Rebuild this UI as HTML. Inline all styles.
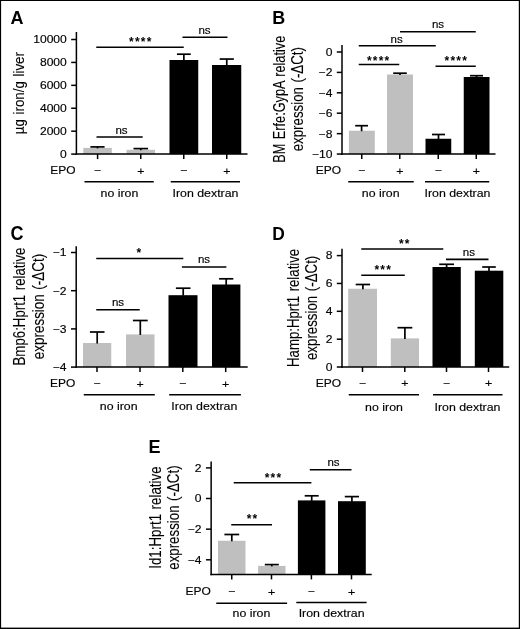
<!DOCTYPE html>
<html><head><meta charset="utf-8"><title>Figure</title>
<style>
html,body{margin:0;padding:0;background:#fff;}
svg{display:block;font-family:"Liberation Sans",sans-serif;}
</style></head><body>
<svg width="520" height="629" viewBox="0 0 520 629">
<rect x="0" y="0" width="520" height="629" fill="#fff"/>
<rect x="83.30" y="147.90" width="28.50" height="6.20" fill="#bfbfbf"/>
<rect x="126.60" y="149.80" width="28.40" height="4.30" fill="#bfbfbf"/>
<rect x="169.50" y="60.00" width="28.75" height="94.10" fill="#000"/>
<rect x="212.00" y="65.00" width="29.25" height="89.10" fill="#000"/>
<line x1="97.50" y1="146.90" x2="97.50" y2="148.40" stroke="#000" stroke-width="1.7"/>
<line x1="90.40" y1="146.90" x2="104.60" y2="146.90" stroke="#000" stroke-width="1.7"/>
<line x1="140.80" y1="148.60" x2="140.80" y2="150.30" stroke="#000" stroke-width="1.7"/>
<line x1="133.50" y1="148.60" x2="148.10" y2="148.60" stroke="#000" stroke-width="1.7"/>
<line x1="183.85" y1="54.20" x2="183.85" y2="60.50" stroke="#000" stroke-width="1.7"/>
<line x1="176.95" y1="54.20" x2="190.75" y2="54.20" stroke="#000" stroke-width="1.7"/>
<line x1="226.75" y1="59.05" x2="226.75" y2="65.50" stroke="#000" stroke-width="1.7"/>
<line x1="219.65" y1="59.05" x2="233.85" y2="59.05" stroke="#000" stroke-width="1.7"/>
<line x1="76.40" y1="32.00" x2="76.40" y2="154.85" stroke="#000" stroke-width="1.5"/>
<line x1="75.65" y1="154.10" x2="247.50" y2="154.10" stroke="#000" stroke-width="1.5"/>
<line x1="71.20" y1="39.50" x2="76.40" y2="39.50" stroke="#000" stroke-width="1.5"/>
<text transform="translate(66.80,43.35) scale(1.1,1)" text-anchor="end" font-size="11" font-weight="normal" stroke="#000" stroke-width="0.15" >10000</text>
<line x1="71.20" y1="62.42" x2="76.40" y2="62.42" stroke="#000" stroke-width="1.5"/>
<text transform="translate(66.80,66.27) scale(1.1,1)" text-anchor="end" font-size="11" font-weight="normal" stroke="#000" stroke-width="0.15" >8000</text>
<line x1="71.20" y1="85.34" x2="76.40" y2="85.34" stroke="#000" stroke-width="1.5"/>
<text transform="translate(66.80,89.19) scale(1.1,1)" text-anchor="end" font-size="11" font-weight="normal" stroke="#000" stroke-width="0.15" >6000</text>
<line x1="71.20" y1="108.26" x2="76.40" y2="108.26" stroke="#000" stroke-width="1.5"/>
<text transform="translate(66.80,112.11) scale(1.1,1)" text-anchor="end" font-size="11" font-weight="normal" stroke="#000" stroke-width="0.15" >4000</text>
<line x1="71.20" y1="131.18" x2="76.40" y2="131.18" stroke="#000" stroke-width="1.5"/>
<text transform="translate(66.80,135.03) scale(1.1,1)" text-anchor="end" font-size="11" font-weight="normal" stroke="#000" stroke-width="0.15" >2000</text>
<line x1="71.20" y1="154.10" x2="76.40" y2="154.10" stroke="#000" stroke-width="1.5"/>
<text transform="translate(66.80,157.95) scale(1.1,1)" text-anchor="end" font-size="11" font-weight="normal" stroke="#000" stroke-width="0.15" >0</text>
<line x1="97.60" y1="154.10" x2="97.60" y2="159.10" stroke="#000" stroke-width="1.5"/>
<line x1="140.75" y1="154.10" x2="140.75" y2="159.10" stroke="#000" stroke-width="1.5"/>
<line x1="183.75" y1="154.10" x2="183.75" y2="159.10" stroke="#000" stroke-width="1.5"/>
<line x1="226.75" y1="154.10" x2="226.75" y2="159.10" stroke="#000" stroke-width="1.5"/>
<text transform="translate(75.50,173.70) scale(1.09,1)" text-anchor="end" font-size="11" font-weight="normal" stroke="#000" stroke-width="0.15" >EPO</text>
<text transform="translate(97.60,173.70) scale(1.125,1)" text-anchor="middle" font-size="11" font-weight="normal" stroke="#000" stroke-width="0.15" >−</text>
<text transform="translate(140.75,174.50) scale(1.125,1)" text-anchor="middle" font-size="11" font-weight="normal" stroke="#000" stroke-width="0.15" >+</text>
<text transform="translate(183.75,173.70) scale(1.125,1)" text-anchor="middle" font-size="11" font-weight="normal" stroke="#000" stroke-width="0.15" >−</text>
<text transform="translate(226.75,174.50) scale(1.125,1)" text-anchor="middle" font-size="11" font-weight="normal" stroke="#000" stroke-width="0.15" >+</text>
<line x1="84.50" y1="181.80" x2="153.75" y2="181.80" stroke="#000" stroke-width="1.5"/>
<line x1="170.75" y1="181.80" x2="240.00" y2="181.80" stroke="#000" stroke-width="1.5"/>
<text transform="translate(119.40,196.50) scale(1.125,1)" text-anchor="middle" font-size="11" font-weight="normal" stroke="#000" stroke-width="0.15" >no iron</text>
<text transform="translate(205.50,196.50) scale(1.125,1)" text-anchor="middle" font-size="11" font-weight="normal" stroke="#000" stroke-width="0.15" >Iron dextran</text>
<line x1="96.25" y1="47.20" x2="183.75" y2="47.20" stroke="#000" stroke-width="1.6"/>
<line x1="182.50" y1="37.30" x2="227.50" y2="37.30" stroke="#000" stroke-width="1.6"/>
<line x1="96.50" y1="137.00" x2="142.70" y2="137.00" stroke="#000" stroke-width="1.6"/>
<text transform="translate(140.80,45.70)" text-anchor="middle" font-size="12" font-weight="bold" letter-spacing="1.2">****</text>
<text transform="translate(204.50,33.60) scale(1.05,1)" text-anchor="middle" font-size="11" font-weight="normal" stroke="#000" stroke-width="0.15" >ns</text>
<text transform="translate(121.50,133.60) scale(1.05,1)" text-anchor="middle" font-size="11" font-weight="normal" stroke="#000" stroke-width="0.15" >ns</text>
<text transform="translate(10.50,24.20) scale(1.0,1)" text-anchor="start" font-size="18" font-weight="bold" stroke="#000" stroke-width="0" >A</text>
<text transform="translate(24.10,134.20) rotate(-90) scale(0.862,1)" text-anchor="start" font-size="15.5" word-spacing="1" stroke="#000" stroke-width="0.1">µg iron/g liver</text>
<rect x="348.90" y="130.70" width="25.90" height="23.35" fill="#bfbfbf"/>
<rect x="387.00" y="74.50" width="26.00" height="79.55" fill="#bfbfbf"/>
<rect x="425.50" y="138.75" width="25.75" height="15.30" fill="#000"/>
<rect x="463.75" y="77.00" width="25.75" height="77.05" fill="#000"/>
<line x1="361.60" y1="125.70" x2="361.60" y2="131.25" stroke="#000" stroke-width="1.7"/>
<line x1="355.20" y1="125.70" x2="368.00" y2="125.70" stroke="#000" stroke-width="1.7"/>
<line x1="400.00" y1="73.20" x2="400.00" y2="75.00" stroke="#000" stroke-width="1.7"/>
<line x1="393.20" y1="73.20" x2="406.80" y2="73.20" stroke="#000" stroke-width="1.7"/>
<line x1="438.50" y1="134.50" x2="438.50" y2="139.25" stroke="#000" stroke-width="1.7"/>
<line x1="432.00" y1="134.50" x2="445.00" y2="134.50" stroke="#000" stroke-width="1.7"/>
<line x1="476.50" y1="75.70" x2="476.50" y2="77.50" stroke="#000" stroke-width="1.7"/>
<line x1="470.00" y1="75.70" x2="483.00" y2="75.70" stroke="#000" stroke-width="1.7"/>
<line x1="342.00" y1="45.00" x2="342.00" y2="154.80" stroke="#000" stroke-width="1.5"/>
<line x1="341.25" y1="154.05" x2="495.50" y2="154.05" stroke="#000" stroke-width="1.5"/>
<line x1="336.80" y1="52.00" x2="342.00" y2="52.00" stroke="#000" stroke-width="1.5"/>
<text transform="translate(332.40,55.85) scale(1.1,1)" text-anchor="end" font-size="11" font-weight="normal" stroke="#000" stroke-width="0.15" >0</text>
<line x1="336.80" y1="72.40" x2="342.00" y2="72.40" stroke="#000" stroke-width="1.5"/>
<text transform="translate(332.40,76.25) scale(1.1,1)" text-anchor="end" font-size="11" font-weight="normal" stroke="#000" stroke-width="0.15" >−2</text>
<line x1="336.80" y1="92.80" x2="342.00" y2="92.80" stroke="#000" stroke-width="1.5"/>
<text transform="translate(332.40,96.65) scale(1.1,1)" text-anchor="end" font-size="11" font-weight="normal" stroke="#000" stroke-width="0.15" >−4</text>
<line x1="336.80" y1="113.20" x2="342.00" y2="113.20" stroke="#000" stroke-width="1.5"/>
<text transform="translate(332.40,117.05) scale(1.1,1)" text-anchor="end" font-size="11" font-weight="normal" stroke="#000" stroke-width="0.15" >−6</text>
<line x1="336.80" y1="133.65" x2="342.00" y2="133.65" stroke="#000" stroke-width="1.5"/>
<text transform="translate(332.40,137.50) scale(1.1,1)" text-anchor="end" font-size="11" font-weight="normal" stroke="#000" stroke-width="0.15" >−8</text>
<line x1="336.80" y1="154.05" x2="342.00" y2="154.05" stroke="#000" stroke-width="1.5"/>
<text transform="translate(332.40,157.90) scale(1.1,1)" text-anchor="end" font-size="11" font-weight="normal" stroke="#000" stroke-width="0.15" >−10</text>
<line x1="361.75" y1="154.05" x2="361.75" y2="159.05" stroke="#000" stroke-width="1.5"/>
<line x1="399.75" y1="154.05" x2="399.75" y2="159.05" stroke="#000" stroke-width="1.5"/>
<line x1="438.25" y1="154.05" x2="438.25" y2="159.05" stroke="#000" stroke-width="1.5"/>
<line x1="476.25" y1="154.05" x2="476.25" y2="159.05" stroke="#000" stroke-width="1.5"/>
<text transform="translate(341.10,173.70) scale(1.09,1)" text-anchor="end" font-size="11" font-weight="normal" stroke="#000" stroke-width="0.15" >EPO</text>
<text transform="translate(361.75,173.70) scale(1.125,1)" text-anchor="middle" font-size="11" font-weight="normal" stroke="#000" stroke-width="0.15" >−</text>
<text transform="translate(399.75,174.50) scale(1.125,1)" text-anchor="middle" font-size="11" font-weight="normal" stroke="#000" stroke-width="0.15" >+</text>
<text transform="translate(438.25,173.70) scale(1.125,1)" text-anchor="middle" font-size="11" font-weight="normal" stroke="#000" stroke-width="0.15" >−</text>
<text transform="translate(476.25,174.50) scale(1.125,1)" text-anchor="middle" font-size="11" font-weight="normal" stroke="#000" stroke-width="0.15" >+</text>
<line x1="348.25" y1="181.80" x2="413.75" y2="181.80" stroke="#000" stroke-width="1.5"/>
<line x1="425.00" y1="181.80" x2="489.25" y2="181.80" stroke="#000" stroke-width="1.5"/>
<text transform="translate(380.70,196.50) scale(1.125,1)" text-anchor="middle" font-size="11" font-weight="normal" stroke="#000" stroke-width="0.15" >no iron</text>
<text transform="translate(457.50,196.50) scale(1.125,1)" text-anchor="middle" font-size="11" font-weight="normal" stroke="#000" stroke-width="0.15" >Iron dextran</text>
<line x1="400.00" y1="31.75" x2="475.75" y2="31.75" stroke="#000" stroke-width="1.6"/>
<line x1="358.75" y1="45.75" x2="435.75" y2="45.75" stroke="#000" stroke-width="1.6"/>
<line x1="358.75" y1="64.50" x2="399.25" y2="64.50" stroke="#000" stroke-width="1.6"/>
<line x1="435.50" y1="66.25" x2="475.75" y2="66.25" stroke="#000" stroke-width="1.6"/>
<text transform="translate(438.00,28.10) scale(1.05,1)" text-anchor="middle" font-size="11" font-weight="normal" stroke="#000" stroke-width="0.15" >ns</text>
<text transform="translate(396.70,42.90) scale(1.05,1)" text-anchor="middle" font-size="11" font-weight="normal" stroke="#000" stroke-width="0.15" >ns</text>
<text transform="translate(378.70,64.50)" text-anchor="middle" font-size="12" font-weight="bold" letter-spacing="1.2">****</text>
<text transform="translate(456.30,64.70)" text-anchor="middle" font-size="12" font-weight="bold" letter-spacing="1.2">****</text>
<text transform="translate(272.20,24.20) scale(0.97,1)" text-anchor="start" font-size="18.5" font-weight="bold" stroke="#000" stroke-width="0" >B</text>
<text transform="translate(285.10,99.20) rotate(-90) scale(0.797,1)" text-anchor="middle" font-size="16" word-spacing="1" stroke="#000" stroke-width="0.1">BM Erfe:GypA relative</text>
<text transform="translate(302.90,99.20) rotate(-90) scale(0.832,1)" text-anchor="middle" font-size="16" word-spacing="1" stroke="#000" stroke-width="0.1">expression (-ΔCt)</text>
<rect x="83.00" y="343.00" width="28.25" height="24.10" fill="#bfbfbf"/>
<rect x="126.00" y="334.40" width="28.50" height="32.70" fill="#bfbfbf"/>
<rect x="168.50" y="295.20" width="29.00" height="71.90" fill="#000"/>
<rect x="212.00" y="284.50" width="28.40" height="82.60" fill="#000"/>
<line x1="97.20" y1="332.00" x2="97.20" y2="343.50" stroke="#000" stroke-width="1.7"/>
<line x1="89.90" y1="332.00" x2="104.50" y2="332.00" stroke="#000" stroke-width="1.7"/>
<line x1="140.30" y1="320.50" x2="140.30" y2="334.90" stroke="#000" stroke-width="1.7"/>
<line x1="132.90" y1="320.50" x2="147.70" y2="320.50" stroke="#000" stroke-width="1.7"/>
<line x1="183.20" y1="288.20" x2="183.20" y2="295.70" stroke="#000" stroke-width="1.7"/>
<line x1="175.90" y1="288.20" x2="190.50" y2="288.20" stroke="#000" stroke-width="1.7"/>
<line x1="226.20" y1="278.80" x2="226.20" y2="285.00" stroke="#000" stroke-width="1.7"/>
<line x1="219.10" y1="278.80" x2="233.30" y2="278.80" stroke="#000" stroke-width="1.7"/>
<line x1="76.20" y1="246.25" x2="76.20" y2="367.85" stroke="#000" stroke-width="1.5"/>
<line x1="75.45" y1="367.10" x2="247.70" y2="367.10" stroke="#000" stroke-width="1.5"/>
<line x1="71.00" y1="252.50" x2="76.20" y2="252.50" stroke="#000" stroke-width="1.5"/>
<text transform="translate(66.60,256.35) scale(1.1,1)" text-anchor="end" font-size="11" font-weight="normal" stroke="#000" stroke-width="0.15" >−1</text>
<line x1="71.00" y1="290.70" x2="76.20" y2="290.70" stroke="#000" stroke-width="1.5"/>
<text transform="translate(66.60,294.55) scale(1.1,1)" text-anchor="end" font-size="11" font-weight="normal" stroke="#000" stroke-width="0.15" >−2</text>
<line x1="71.00" y1="328.90" x2="76.20" y2="328.90" stroke="#000" stroke-width="1.5"/>
<text transform="translate(66.60,332.75) scale(1.1,1)" text-anchor="end" font-size="11" font-weight="normal" stroke="#000" stroke-width="0.15" >−3</text>
<line x1="71.00" y1="367.10" x2="76.20" y2="367.10" stroke="#000" stroke-width="1.5"/>
<text transform="translate(66.60,370.95) scale(1.1,1)" text-anchor="end" font-size="11" font-weight="normal" stroke="#000" stroke-width="0.15" >−4</text>
<line x1="97.00" y1="367.10" x2="97.00" y2="372.10" stroke="#000" stroke-width="1.5"/>
<line x1="140.00" y1="367.10" x2="140.00" y2="372.10" stroke="#000" stroke-width="1.5"/>
<line x1="182.80" y1="367.10" x2="182.80" y2="372.10" stroke="#000" stroke-width="1.5"/>
<line x1="225.70" y1="367.10" x2="225.70" y2="372.10" stroke="#000" stroke-width="1.5"/>
<text transform="translate(75.30,386.70) scale(1.09,1)" text-anchor="end" font-size="11" font-weight="normal" stroke="#000" stroke-width="0.15" >EPO</text>
<text transform="translate(97.00,386.70) scale(1.125,1)" text-anchor="middle" font-size="11" font-weight="normal" stroke="#000" stroke-width="0.15" >−</text>
<text transform="translate(140.00,387.50) scale(1.125,1)" text-anchor="middle" font-size="11" font-weight="normal" stroke="#000" stroke-width="0.15" >+</text>
<text transform="translate(182.80,386.70) scale(1.125,1)" text-anchor="middle" font-size="11" font-weight="normal" stroke="#000" stroke-width="0.15" >−</text>
<text transform="translate(225.70,387.50) scale(1.125,1)" text-anchor="middle" font-size="11" font-weight="normal" stroke="#000" stroke-width="0.15" >+</text>
<line x1="83.75" y1="394.80" x2="154.80" y2="394.80" stroke="#000" stroke-width="1.5"/>
<line x1="169.20" y1="394.80" x2="240.90" y2="394.80" stroke="#000" stroke-width="1.5"/>
<text transform="translate(118.70,410.40) scale(1.125,1)" text-anchor="middle" font-size="11" font-weight="normal" stroke="#000" stroke-width="0.15" >no iron</text>
<text transform="translate(204.30,410.40) scale(1.125,1)" text-anchor="middle" font-size="11" font-weight="normal" stroke="#000" stroke-width="0.15" >Iron dextran</text>
<line x1="96.25" y1="258.50" x2="183.30" y2="258.50" stroke="#000" stroke-width="1.6"/>
<line x1="181.90" y1="267.00" x2="226.40" y2="267.00" stroke="#000" stroke-width="1.6"/>
<line x1="96.25" y1="309.70" x2="139.70" y2="309.70" stroke="#000" stroke-width="1.6"/>
<text transform="translate(139.45,257.00)" text-anchor="middle" font-size="12" font-weight="bold" letter-spacing="1.2">*</text>
<text transform="translate(204.00,262.70) scale(1.05,1)" text-anchor="middle" font-size="11" font-weight="normal" stroke="#000" stroke-width="0.15" >ns</text>
<text transform="translate(118.00,305.60) scale(1.05,1)" text-anchor="middle" font-size="11" font-weight="normal" stroke="#000" stroke-width="0.15" >ns</text>
<text transform="translate(10.40,239.50) scale(0.93,1)" text-anchor="start" font-size="19.4" font-weight="bold" stroke="#000" stroke-width="0" >C</text>
<text transform="translate(25.35,306.50) rotate(-90) scale(0.829,1)" text-anchor="middle" font-size="16" word-spacing="1" stroke="#000" stroke-width="0.1">Bmp6:Hprt1 relative</text>
<text transform="translate(43.50,306.50) rotate(-90) scale(0.84,1)" text-anchor="middle" font-size="16" word-spacing="1" stroke="#000" stroke-width="0.1">expression (-ΔCt)</text>
<rect x="348.20" y="288.75" width="28.80" height="78.25" fill="#bfbfbf"/>
<rect x="390.80" y="338.40" width="28.20" height="28.60" fill="#bfbfbf"/>
<rect x="432.50" y="267.00" width="28.30" height="100.00" fill="#000"/>
<rect x="474.80" y="270.70" width="28.50" height="96.30" fill="#000"/>
<line x1="362.90" y1="284.50" x2="362.90" y2="289.25" stroke="#000" stroke-width="1.7"/>
<line x1="355.70" y1="284.50" x2="370.10" y2="284.50" stroke="#000" stroke-width="1.7"/>
<line x1="404.90" y1="327.70" x2="404.90" y2="338.90" stroke="#000" stroke-width="1.7"/>
<line x1="397.50" y1="327.70" x2="412.30" y2="327.70" stroke="#000" stroke-width="1.7"/>
<line x1="446.60" y1="264.30" x2="446.60" y2="267.50" stroke="#000" stroke-width="1.7"/>
<line x1="439.20" y1="264.30" x2="454.00" y2="264.30" stroke="#000" stroke-width="1.7"/>
<line x1="489.00" y1="267.00" x2="489.00" y2="271.20" stroke="#000" stroke-width="1.7"/>
<line x1="482.20" y1="267.00" x2="495.80" y2="267.00" stroke="#000" stroke-width="1.7"/>
<line x1="342.00" y1="248.70" x2="342.00" y2="367.75" stroke="#000" stroke-width="1.5"/>
<line x1="341.25" y1="367.00" x2="509.20" y2="367.00" stroke="#000" stroke-width="1.5"/>
<line x1="336.80" y1="255.60" x2="342.00" y2="255.60" stroke="#000" stroke-width="1.5"/>
<text transform="translate(332.40,259.45) scale(1.1,1)" text-anchor="end" font-size="11" font-weight="normal" stroke="#000" stroke-width="0.15" >8</text>
<line x1="336.80" y1="283.45" x2="342.00" y2="283.45" stroke="#000" stroke-width="1.5"/>
<text transform="translate(332.40,287.30) scale(1.1,1)" text-anchor="end" font-size="11" font-weight="normal" stroke="#000" stroke-width="0.15" >6</text>
<line x1="336.80" y1="311.30" x2="342.00" y2="311.30" stroke="#000" stroke-width="1.5"/>
<text transform="translate(332.40,315.15) scale(1.1,1)" text-anchor="end" font-size="11" font-weight="normal" stroke="#000" stroke-width="0.15" >4</text>
<line x1="336.80" y1="339.20" x2="342.00" y2="339.20" stroke="#000" stroke-width="1.5"/>
<text transform="translate(332.40,343.05) scale(1.1,1)" text-anchor="end" font-size="11" font-weight="normal" stroke="#000" stroke-width="0.15" >2</text>
<line x1="336.80" y1="367.00" x2="342.00" y2="367.00" stroke="#000" stroke-width="1.5"/>
<text transform="translate(332.40,370.85) scale(1.1,1)" text-anchor="end" font-size="11" font-weight="normal" stroke="#000" stroke-width="0.15" >0</text>
<line x1="362.50" y1="367.00" x2="362.50" y2="372.00" stroke="#000" stroke-width="1.5"/>
<line x1="404.80" y1="367.00" x2="404.80" y2="372.00" stroke="#000" stroke-width="1.5"/>
<line x1="446.50" y1="367.00" x2="446.50" y2="372.00" stroke="#000" stroke-width="1.5"/>
<line x1="488.50" y1="367.00" x2="488.50" y2="372.00" stroke="#000" stroke-width="1.5"/>
<text transform="translate(341.10,386.70) scale(1.09,1)" text-anchor="end" font-size="11" font-weight="normal" stroke="#000" stroke-width="0.15" >EPO</text>
<text transform="translate(362.50,386.50) scale(1.125,1)" text-anchor="middle" font-size="11" font-weight="normal" stroke="#000" stroke-width="0.15" >−</text>
<text transform="translate(404.80,387.30) scale(1.125,1)" text-anchor="middle" font-size="11" font-weight="normal" stroke="#000" stroke-width="0.15" >+</text>
<text transform="translate(446.50,386.50) scale(1.125,1)" text-anchor="middle" font-size="11" font-weight="normal" stroke="#000" stroke-width="0.15" >−</text>
<text transform="translate(488.50,387.30) scale(1.125,1)" text-anchor="middle" font-size="11" font-weight="normal" stroke="#000" stroke-width="0.15" >+</text>
<line x1="348.75" y1="394.80" x2="419.00" y2="394.80" stroke="#000" stroke-width="1.5"/>
<line x1="433.00" y1="394.80" x2="502.50" y2="394.80" stroke="#000" stroke-width="1.5"/>
<text transform="translate(384.00,410.60) scale(1.125,1)" text-anchor="middle" font-size="11" font-weight="normal" stroke="#000" stroke-width="0.15" >no iron</text>
<text transform="translate(467.50,410.60) scale(1.125,1)" text-anchor="middle" font-size="11" font-weight="normal" stroke="#000" stroke-width="0.15" >Iron dextran</text>
<line x1="361.25" y1="249.00" x2="443.30" y2="249.00" stroke="#000" stroke-width="1.6"/>
<line x1="361.25" y1="275.30" x2="404.80" y2="275.30" stroke="#000" stroke-width="1.6"/>
<line x1="446.00" y1="259.40" x2="488.50" y2="259.40" stroke="#000" stroke-width="1.6"/>
<text transform="translate(404.85,248.00)" text-anchor="middle" font-size="12" font-weight="bold" letter-spacing="1.2">**</text>
<text transform="translate(383.20,274.20)" text-anchor="middle" font-size="12" font-weight="bold" letter-spacing="1.2">***</text>
<text transform="translate(468.90,256.00) scale(1.05,1)" text-anchor="middle" font-size="11" font-weight="normal" stroke="#000" stroke-width="0.15" >ns</text>
<text transform="translate(272.20,239.50) scale(0.95,1)" text-anchor="start" font-size="18.3" font-weight="bold" stroke="#000" stroke-width="0" >D</text>
<text transform="translate(299.10,307.90) rotate(-90) scale(0.825,1)" text-anchor="middle" font-size="16" word-spacing="1" stroke="#000" stroke-width="0.1">Hamp:Hprt1 relative</text>
<text transform="translate(316.90,307.90) rotate(-90) scale(0.832,1)" text-anchor="middle" font-size="16" word-spacing="1" stroke="#000" stroke-width="0.1">expression (-ΔCt)</text>
<rect x="218.00" y="540.75" width="27.50" height="33.65" fill="#bfbfbf"/>
<rect x="258.10" y="565.90" width="27.40" height="8.50" fill="#bfbfbf"/>
<rect x="297.90" y="500.40" width="27.50" height="74.00" fill="#000"/>
<rect x="338.00" y="501.20" width="27.80" height="73.20" fill="#000"/>
<line x1="231.80" y1="534.50" x2="231.80" y2="541.25" stroke="#000" stroke-width="1.7"/>
<line x1="224.40" y1="534.50" x2="239.20" y2="534.50" stroke="#000" stroke-width="1.7"/>
<line x1="271.80" y1="564.60" x2="271.80" y2="566.40" stroke="#000" stroke-width="1.7"/>
<line x1="264.80" y1="564.60" x2="278.80" y2="564.60" stroke="#000" stroke-width="1.7"/>
<line x1="311.70" y1="495.80" x2="311.70" y2="500.90" stroke="#000" stroke-width="1.7"/>
<line x1="304.70" y1="495.80" x2="318.70" y2="495.80" stroke="#000" stroke-width="1.7"/>
<line x1="351.90" y1="496.60" x2="351.90" y2="501.70" stroke="#000" stroke-width="1.7"/>
<line x1="344.80" y1="496.60" x2="359.00" y2="496.60" stroke="#000" stroke-width="1.7"/>
<line x1="211.15" y1="461.50" x2="211.15" y2="575.15" stroke="#000" stroke-width="1.5"/>
<line x1="210.40" y1="574.40" x2="371.70" y2="574.40" stroke="#000" stroke-width="1.5"/>
<line x1="205.95" y1="467.90" x2="211.15" y2="467.90" stroke="#000" stroke-width="1.5"/>
<text transform="translate(201.55,471.75) scale(1.1,1)" text-anchor="end" font-size="11" font-weight="normal" stroke="#000" stroke-width="0.15" >2</text>
<line x1="205.95" y1="498.50" x2="211.15" y2="498.50" stroke="#000" stroke-width="1.5"/>
<text transform="translate(201.55,502.35) scale(1.1,1)" text-anchor="end" font-size="11" font-weight="normal" stroke="#000" stroke-width="0.15" >0</text>
<line x1="205.95" y1="529.15" x2="211.15" y2="529.15" stroke="#000" stroke-width="1.5"/>
<text transform="translate(201.55,533.00) scale(1.1,1)" text-anchor="end" font-size="11" font-weight="normal" stroke="#000" stroke-width="0.15" >−2</text>
<line x1="205.95" y1="559.80" x2="211.15" y2="559.80" stroke="#000" stroke-width="1.5"/>
<text transform="translate(201.55,563.65) scale(1.1,1)" text-anchor="end" font-size="11" font-weight="normal" stroke="#000" stroke-width="0.15" >−4</text>
<line x1="231.75" y1="574.40" x2="231.75" y2="579.40" stroke="#000" stroke-width="1.5"/>
<line x1="271.50" y1="574.40" x2="271.50" y2="579.40" stroke="#000" stroke-width="1.5"/>
<line x1="311.40" y1="574.40" x2="311.40" y2="579.40" stroke="#000" stroke-width="1.5"/>
<line x1="351.50" y1="574.40" x2="351.50" y2="579.40" stroke="#000" stroke-width="1.5"/>
<text transform="translate(210.75,594.70) scale(1.09,1)" text-anchor="end" font-size="11" font-weight="normal" stroke="#000" stroke-width="0.15" >EPO</text>
<text transform="translate(231.75,595.00) scale(1.125,1)" text-anchor="middle" font-size="11" font-weight="normal" stroke="#000" stroke-width="0.15" >−</text>
<text transform="translate(271.50,595.80) scale(1.125,1)" text-anchor="middle" font-size="11" font-weight="normal" stroke="#000" stroke-width="0.15" >+</text>
<text transform="translate(311.40,595.00) scale(1.125,1)" text-anchor="middle" font-size="11" font-weight="normal" stroke="#000" stroke-width="0.15" >−</text>
<text transform="translate(351.50,595.80) scale(1.125,1)" text-anchor="middle" font-size="11" font-weight="normal" stroke="#000" stroke-width="0.15" >+</text>
<line x1="216.25" y1="603.30" x2="287.10" y2="603.30" stroke="#000" stroke-width="1.5"/>
<line x1="296.30" y1="602.50" x2="366.60" y2="602.50" stroke="#000" stroke-width="1.5"/>
<text transform="translate(251.40,617.20) scale(1.125,1)" text-anchor="middle" font-size="11" font-weight="normal" stroke="#000" stroke-width="0.15" >no iron</text>
<text transform="translate(331.60,617.20) scale(1.125,1)" text-anchor="middle" font-size="11" font-weight="normal" stroke="#000" stroke-width="0.15" >Iron dextran</text>
<line x1="233.75" y1="482.80" x2="311.40" y2="482.80" stroke="#000" stroke-width="1.6"/>
<line x1="309.80" y1="469.70" x2="351.50" y2="469.70" stroke="#000" stroke-width="1.6"/>
<line x1="231.25" y1="524.70" x2="272.00" y2="524.70" stroke="#000" stroke-width="1.6"/>
<text transform="translate(273.50,481.60)" text-anchor="middle" font-size="12" font-weight="bold" letter-spacing="1.2">***</text>
<text transform="translate(333.50,466.00) scale(1.05,1)" text-anchor="middle" font-size="11" font-weight="normal" stroke="#000" stroke-width="0.15" >ns</text>
<text transform="translate(252.60,523.40)" text-anchor="middle" font-size="12" font-weight="bold" letter-spacing="1.2">**</text>
<text transform="translate(148.60,452.90) scale(0.94,1)" text-anchor="start" font-size="19.2" font-weight="bold" stroke="#000" stroke-width="0" >E</text>
<text transform="translate(161.10,517.60) rotate(-90) scale(0.835,1)" text-anchor="middle" font-size="16" word-spacing="1" stroke="#000" stroke-width="0.1">Id1:Hprt1 relative</text>
<text transform="translate(179.30,517.60) rotate(-90) scale(0.832,1)" text-anchor="middle" font-size="16" word-spacing="1" stroke="#000" stroke-width="0.1">expression (-ΔCt)</text>
<rect x="0" y="0" width="520" height="1" fill="#000"/><rect x="0" y="0" width="1.1" height="629" fill="#000"/><rect x="518.8" y="0" width="1.2" height="629" fill="#000"/><rect x="0" y="627.6" width="520" height="1.4" fill="#000"/>
</svg>
</body></html>
